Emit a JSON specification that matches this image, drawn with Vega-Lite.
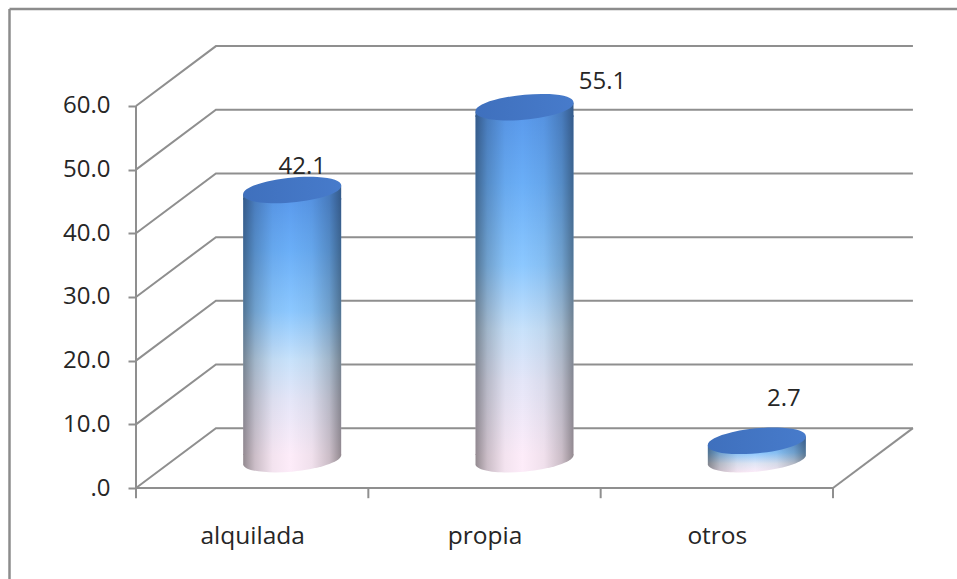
{
  "$schema": "https://vega.github.io/schema/vega-lite/v6.json",
  "width": 947.5,
  "height": 570,
  "padding": {"left": 9.5, "top": 9, "right": 0, "bottom": 0},
  "autosize": {"type": "none"},
  "background": "#ffffff",
  "view": {"stroke": null},
  "config": {"font": "Open Sans"},
  "datasets": {
    "viviendas": [
      {"tipo": "alquilada", "orden": 1, "porcentaje": 42.1},
      {"tipo": "propia", "orden": 2, "porcentaje": 55.1},
      {"tipo": "otros", "orden": 3, "porcentaje": 2.7}
    ],
    "trazos": [
      {"tramo": "n10", "ex": 0.5, "ey": 10}, {"tramo": "n10", "ex": 0.844, "ey": 19.4}, {"tramo": "n10", "ex": 3.844, "ey": 19.4},
      {"tramo": "n20", "ex": 0.5, "ey": 20}, {"tramo": "n20", "ex": 0.844, "ey": 29.4}, {"tramo": "n20", "ex": 3.844, "ey": 29.4},
      {"tramo": "n30", "ex": 0.5, "ey": 30}, {"tramo": "n30", "ex": 0.844, "ey": 39.4}, {"tramo": "n30", "ex": 3.844, "ey": 39.4},
      {"tramo": "n40", "ex": 0.5, "ey": 40}, {"tramo": "n40", "ex": 0.844, "ey": 49.4}, {"tramo": "n40", "ex": 3.844, "ey": 49.4},
      {"tramo": "n50", "ex": 0.5, "ey": 50}, {"tramo": "n50", "ex": 0.844, "ey": 59.4}, {"tramo": "n50", "ex": 3.844, "ey": 59.4},
      {"tramo": "n60", "ex": 0.5, "ey": 60}, {"tramo": "n60", "ex": 0.844, "ey": 69.4}, {"tramo": "n60", "ex": 3.844, "ey": 69.4},
      {"tramo": "suelo_fondo", "ex": 0.5, "ey": 0}, {"tramo": "suelo_fondo", "ex": 0.844, "ey": 9.4}, {"tramo": "suelo_fondo", "ex": 3.844, "ey": 9.4},
      {"tramo": "suelo_frente", "ex": 0.5, "ey": 0}, {"tramo": "suelo_frente", "ex": 3.5, "ey": 0},
      {"tramo": "suelo_lado", "ex": 3.5, "ey": 0}, {"tramo": "suelo_lado", "ex": 3.844, "ey": 9.4},
      {"tramo": "eje", "ex": 0.5, "ey": 60}, {"tramo": "eje", "ex": 0.5, "ey": -1.6},
      {"tramo": "m1", "ex": 1.5, "ey": 0}, {"tramo": "m1", "ex": 1.5, "ey": -1.6},
      {"tramo": "m2", "ex": 2.5, "ey": 0}, {"tramo": "m2", "ex": 2.5, "ey": -1.6},
      {"tramo": "m3", "ex": 3.5, "ey": 0}, {"tramo": "m3", "ex": 3.5, "ey": -1.6}
    ],
    "marco": [{"izquierda": -0.0445, "arriba": 75.23}]
  },
  "encoding": {
    "x": {
      "field": "orden",
      "type": "quantitative",
      "scale": {"domain": [-0.0445, 4.0337], "nice": false, "zero": false, "padding": 0},
      "axis": {
        "values": [1, 2, 3],
        "labelExpr": "datum.value === 1 ? 'alquilada' : datum.value === 2 ? 'propia' : 'otros'",
        "offset": -91,
        "title": null,
        "grid": false,
        "domain": false,
        "ticks": false,
        "labelFontSize": 24.5,
        "labelColor": "#262626",
        "labelPadding": 36,
        "labelFont": "Open Sans"
      }
    },
    "y": {
      "field": "porcentaje",
      "type": "quantitative",
      "scale": {"domain": [-14.29, 75.23], "nice": false, "zero": false},
      "axis": {
        "values": [0, 10, 20, 30, 40, 50, 60],
        "labelExpr": "datum.value === 0 ? '.0' : format(datum.value, '.1f')",
        "offset": -126.5,
        "title": null,
        "grid": false,
        "domain": false,
        "tickSize": 8,
        "tickWidth": 2,
        "tickColor": "#8f8f8f",
        "labelFontSize": 24,
        "labelColor": "#262626",
        "labelPadding": 18,
        "labelFont": "Open Sans"
      }
    }
  },
  "layer": [
    {
      "data": {"name": "marco"},
      "mark": {"type": "rule", "color": "#8c8c8c", "strokeWidth": 2.5},
      "encoding": {"x": {"field": "izquierda", "type": "quantitative"}, "y": null}
    },
    {
      "data": {"name": "marco"},
      "mark": {"type": "rule", "color": "#8c8c8c", "strokeWidth": 2.5},
      "encoding": {"y": {"field": "arriba", "type": "quantitative"}, "x": null}
    },
    {
      "data": {"name": "trazos"},
      "mark": {"type": "line", "color": "#8f8f8f", "strokeWidth": 2, "interpolate": "linear"},
      "encoding": {
        "x": {"field": "ex", "type": "quantitative"},
        "y": {"field": "ey", "type": "quantitative"},
        "detail": {"field": "tramo"}
      }
    },
    {
      "data": {"name": "viviendas"},
      "transform": [{"filter": "datum.porcentaje > 10"}],
      "mark": {
        "type": "bar", "size": 98, "orient": "vertical", "xOffset": 40, "yOffset": -22, "y2Offset": -33,
        "fill": {
          "gradient": "linear", "x1": 0, "y1": 0, "x2": 0, "y2": 1,
          "stops": [
            {"offset": 0, "color": "#5a9aec"},
            {"offset": 0.2, "color": "#6aaef7"},
            {"offset": 0.44, "color": "#8cc8ff"},
            {"offset": 0.63, "color": "#c8e2fb"},
            {"offset": 0.78, "color": "#e4e6f8"},
            {"offset": 1, "color": "#fdecf9"}
          ]
        }
      },
      "encoding": {"y2": {"datum": 0}}
    },
    {
      "data": {"name": "viviendas"},
      "transform": [{"filter": "datum.porcentaje > 10"}],
      "mark": {
        "type": "bar", "size": 98, "orient": "vertical", "xOffset": 40, "yOffset": -22, "y2Offset": -33,
        "fill": {
          "gradient": "linear", "x1": 0, "y1": 0, "x2": 1, "y2": 0,
          "stops": [
            {"offset": 0, "color": "rgba(0,0,0,0.42)"},
            {"offset": 0.12, "color": "rgba(0,0,0,0.2)"},
            {"offset": 0.3, "color": "rgba(0,0,0,0.04)"},
            {"offset": 0.48, "color": "rgba(0,0,0,0)"},
            {"offset": 0.7, "color": "rgba(0,0,0,0.05)"},
            {"offset": 0.88, "color": "rgba(0,0,0,0.2)"},
            {"offset": 1, "color": "rgba(0,0,0,0.42)"}
          ]
        }
      },
      "encoding": {"y2": {"datum": 0}}
    },
    {
      "data": {"name": "viviendas"},
      "transform": [{"filter": "datum.porcentaje > 10"}],
      "mark": {
        "type": "point", "filled": true, "opacity": 1, "size": 9604, "xOffset": 40, "yOffset": -30,
        "shape": "M-1,0.09L1,-0.09L1,0.2L-1,0.2Z",
        "fill": {
          "gradient": "linear", "x1": 0, "y1": 0, "x2": 1, "y2": 0,
          "stops": [
            {"offset": 0, "color": "#345a89"},
            {"offset": 0.12, "color": "#487bbd"},
            {"offset": 0.3, "color": "#5794e3"},
            {"offset": 0.48, "color": "#5a9aec"},
            {"offset": 0.7, "color": "#5692e0"},
            {"offset": 0.88, "color": "#487bbd"},
            {"offset": 1, "color": "#345a89"}
          ]
        }
      }
    },
    {
      "data": {"name": "viviendas"},
      "transform": [{"filter": "datum.porcentaje > 10"}],
      "mark": {
        "type": "point", "filled": true, "opacity": 1, "size": 9604, "xOffset": 40, "yOffset": -28,
        "shape": "M-1,-0.12L-1,0.09A1.005,0.245 -5.5 0,0 1,-0.09L1,-0.12Z",
        "fill": {
          "gradient": "linear", "x1": 0, "y1": 0, "x2": 1, "y2": 0,
          "stops": [
            {"offset": 0, "color": "#938a90"},
            {"offset": 0.12, "color": "#cbbdc7"},
            {"offset": 0.3, "color": "#f3e3ef"},
            {"offset": 0.48, "color": "#fdecf9"},
            {"offset": 0.7, "color": "#f0e0ec"},
            {"offset": 0.88, "color": "#cbbdc7"},
            {"offset": 1, "color": "#938a90"}
          ]
        }
      },
      "encoding": {"y": {"datum": 0}}
    },
    {
      "data": {"name": "viviendas"},
      "transform": [{"filter": "datum.porcentaje <= 10"}],
      "mark": {
        "type": "point", "filled": true, "opacity": 1, "size": 9604, "xOffset": 40, "yOffset": -28,
        "shape": "M-1,-0.3L-1,0.09A1.005,0.245 -5.5 0,0 1,-0.09L1,-0.48Z",
        "fill": {
          "gradient": "linear", "x1": 0, "y1": 0, "x2": 0, "y2": 1,
          "stops": [
            {"offset": 0, "color": "#5a9aec"},
            {"offset": 0.45, "color": "#8cc8ff"},
            {"offset": 0.75, "color": "#dfe6f5"},
            {"offset": 1, "color": "#fdecf9"}
          ]
        }
      },
      "encoding": {"y": {"datum": 0}}
    },
    {
      "data": {"name": "viviendas"},
      "transform": [{"filter": "datum.porcentaje <= 10"}],
      "mark": {
        "type": "point", "filled": true, "opacity": 1, "size": 9604, "xOffset": 40, "yOffset": -28,
        "shape": "M-1,-0.3L-1,0.09A1.005,0.245 -5.5 0,0 1,-0.09L1,-0.48Z",
        "fill": {
          "gradient": "linear", "x1": 0, "y1": 0, "x2": 1, "y2": 0,
          "stops": [
            {"offset": 0, "color": "rgba(0,0,0,0.42)"},
            {"offset": 0.12, "color": "rgba(0,0,0,0.2)"},
            {"offset": 0.3, "color": "rgba(0,0,0,0.04)"},
            {"offset": 0.48, "color": "rgba(0,0,0,0)"},
            {"offset": 0.7, "color": "rgba(0,0,0,0.05)"},
            {"offset": 0.88, "color": "rgba(0,0,0,0.2)"},
            {"offset": 1, "color": "rgba(0,0,0,0.42)"}
          ]
        }
      },
      "encoding": {"y": {"datum": 0}}
    },
    {
      "data": {"name": "viviendas"},
      "mark": {
        "type": "point", "filled": true, "opacity": 1, "size": 9604, "xOffset": 40, "yOffset": -30,
        "shape": "M-1,0.09A1.005,0.245 -5.5 1,1 1,-0.09A1.005,0.245 -5.5 1,1 -1,0.09Z",
        "fill": {
          "gradient": "linear", "x1": 0, "y1": 0, "x2": 1, "y2": 0,
          "stops": [
            {"offset": 0, "color": "#3f70bd"},
            {"offset": 1, "color": "#477bcb"}
          ]
        }
      }
    },
    {
      "data": {"name": "viviendas"},
      "transform": [{"filter": "datum.orden === 1"}],
      "mark": {"type": "text", "fontSize": 24, "font": "Open Sans", "color": "#262626", "align": "center", "baseline": "alphabetic", "xOffset": 50, "yOffset": -46},
      "encoding": {"text": {"field": "porcentaje", "format": ".1f"}}
    },
    {
      "data": {"name": "viviendas"},
      "transform": [{"filter": "datum.orden === 2"}],
      "mark": {"type": "text", "fontSize": 24, "font": "Open Sans", "color": "#262626", "align": "center", "baseline": "alphabetic", "xOffset": 118, "yOffset": -48},
      "encoding": {"text": {"field": "porcentaje", "format": ".1f"}}
    },
    {
      "data": {"name": "viviendas"},
      "transform": [{"filter": "datum.orden === 3"}],
      "mark": {"type": "text", "fontSize": 24, "font": "Open Sans", "color": "#262626", "align": "center", "baseline": "alphabetic", "xOffset": 67, "yOffset": -65},
      "encoding": {"text": {"field": "porcentaje", "format": ".1f"}}
    }
  ]
}
